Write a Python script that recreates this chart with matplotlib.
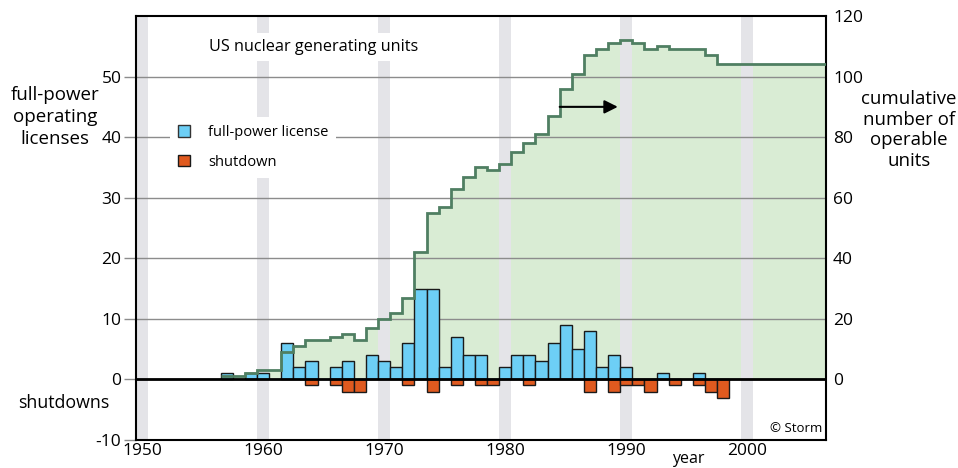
import matplotlib
matplotlib.use("Agg")
import matplotlib.pyplot as plt
from matplotlib.patches import Patch

plt.rcParams['font.family'] = ['Open Sans', 'DejaVu Sans']
plt.rcParams['axes.unicode_minus'] = False

# ---- data ----
license_years = [1957, 1959, 1960, 1962, 1963, 1964, 1966, 1967, 1969, 1970, 1971,
                 1972, 1973, 1974, 1975, 1976, 1977, 1978, 1980, 1981, 1982, 1983,
                 1984, 1985, 1986, 1987, 1988, 1989, 1990, 1993, 1996]
licenses = [1, 1, 1, 6, 2, 3, 2, 3, 4, 3, 2,
            6, 15, 15, 2, 7, 4, 4, 2, 4, 4, 3,
            6, 9, 5, 8, 2, 4, 2, 1, 1]

shutdown_years = [1964, 1966, 1967, 1968, 1972, 1974, 1976, 1978, 1979, 1982,
                  1987, 1989, 1990, 1991, 1992, 1994, 1996, 1997, 1998]
shutdowns = [-1, -1, -2, -2, -1, -2, -1, -1, -1, -1,
             -2, -2, -1, -1, -2, -1, -1, -2, -3]

cum_edges = list(range(1957, 2008))
cumulative = [1, 1, 2, 3, 3, 9, 11, 13, 13, 14, 15, 13, 17, 20, 22, 27, 42, 55,
              57, 63, 67, 70, 69, 71, 75, 78, 81, 87, 96, 101, 107, 109, 111, 112,
              111, 109, 110, 109, 109, 109, 107, 104, 104, 104, 104, 104, 104,
              104, 104, 104]

decades = [1950, 1960, 1970, 1980, 1990, 2000]
left_ticks = [-10, 0, 10, 20, 30, 40, 50]
right_ticks = [0, 20, 40, 60, 80, 100, 120]

# ---- style ----
BLUE = '#6dcff6'
ORANGE = '#e05a1f'
FILL = '#d9ecd4'
LINE = '#4f7f62'
BAND = '#e4e4e8'
GRID = '#8c8c8c'

W, H = 958, 468
fig = plt.figure(figsize=(W / 100, H / 100), dpi=100)
ax = fig.add_axes([136 / W, 1 - 440 / H, (826 - 136) / W, (440 - 16) / H])
ax2 = ax.twinx()

ax.set_xlim(1950, 2007)
ax.set_ylim(-10, 60)
ax2.set_ylim(-20, 120)

# cumulative fill (right axis scale), drawn below everything
ax.stairs(cumulative, cum_edges, baseline=0, fill=True, color=FILL,
          transform=ax2.transData, zorder=0.1, lw=0)

# decade bands
for d in decades:
    ax.axvspan(d, d + 1, color=BAND, lw=0, zorder=0.3)

# grid
ax.set_yticks(left_ticks)
ax.yaxis.grid(True, color=GRID, lw=1.0, zorder=0.5)
ax.set_axisbelow(True)

# bars
ax.bar(license_years, licenses, width=1, align='edge', color=BLUE,
       edgecolor='#1a1a1a', lw=1.0, zorder=2)
ax.bar(shutdown_years, shutdowns, width=1, align='edge', color=ORANGE,
       edgecolor='#1a1a1a', lw=1.0, zorder=2)

ax.axhline(0, color='black', lw=2, zorder=2.5)

# cumulative line
ax.stairs(cumulative, cum_edges, baseline=None, color=LINE, lw=2,
          transform=ax2.transData, zorder=3)

# arrow
ax.annotate('', xy=(1989.8, 45), xytext=(1985, 45),
            arrowprops=dict(arrowstyle='-|>', color='black', lw=1.5,
                            mutation_scale=20, shrinkA=0, shrinkB=0),
            zorder=4)

# axes styling
for s in ax.spines.values():
    s.set_color('black')
    s.set_linewidth(1.5)
for s in ax2.spines.values():
    s.set_visible(False)

ax.tick_params(axis='y', direction='out', length=9, width=1, color=GRID,
               pad=1.5, labelsize=12.5)
ax.set_xticks([d + 0.5 for d in decades])
ax.set_xticklabels([str(d) for d in decades])
ax.tick_params(axis='x', length=0, pad=2, labelsize=12.5)

ax2.set_yticks(right_ticks)
ax2.tick_params(axis='y', length=0, pad=5, labelsize=12.5)

# title with white background
fig.text(314 / W, 1 - 47 / H, 'US nuclear generating units', ha='center',
         va='center', fontsize=11.7,
         bbox=dict(facecolor='white', edgecolor='none', pad=4), zorder=5)

# legend
leg = ax.legend(handles=[Patch(facecolor=BLUE, edgecolor='#333333', lw=1),
                         Patch(facecolor=ORANGE, edgecolor='#1a1a1a', lw=1)],
                labels=['full-power license', 'shutdown'],
                loc='upper left', bbox_to_anchor=(170 / W, 1 - 117 / H),
                bbox_transform=fig.transFigure, frameon=True, fancybox=False,
                facecolor='white', edgecolor='none', framealpha=1,
                fontsize=10.5, handlelength=0.85, handleheight=0.85,
                handletextpad=1.2, labelspacing=1.0, borderpad=0.55,
                borderaxespad=0)
leg.set_zorder(5)

# side labels
fig.text(55 / W, 1 - 117 / H, 'full-power\noperating\nlicenses', ha='center',
         va='center', fontsize=13.5, linespacing=1.27)
fig.text(64 / W, 1 - 403 / H, 'shutdowns', ha='center', va='center',
         fontsize=12.8)
fig.text(909 / W, 1 - 130 / H, 'cumulative\nnumber of\noperable\nunits',
         ha='center', va='center', fontsize=13.4, linespacing=1.2)
fig.text(688 / W, 1 - 459 / H, 'year', ha='center', va='center', fontsize=11.5)
ax.text(0.995, 0.012, '\u00a9 Storm', transform=ax.transAxes, ha='right',
        va='bottom', fontsize=9.5, zorder=5)

fig.savefig('out.png', dpi=100)
